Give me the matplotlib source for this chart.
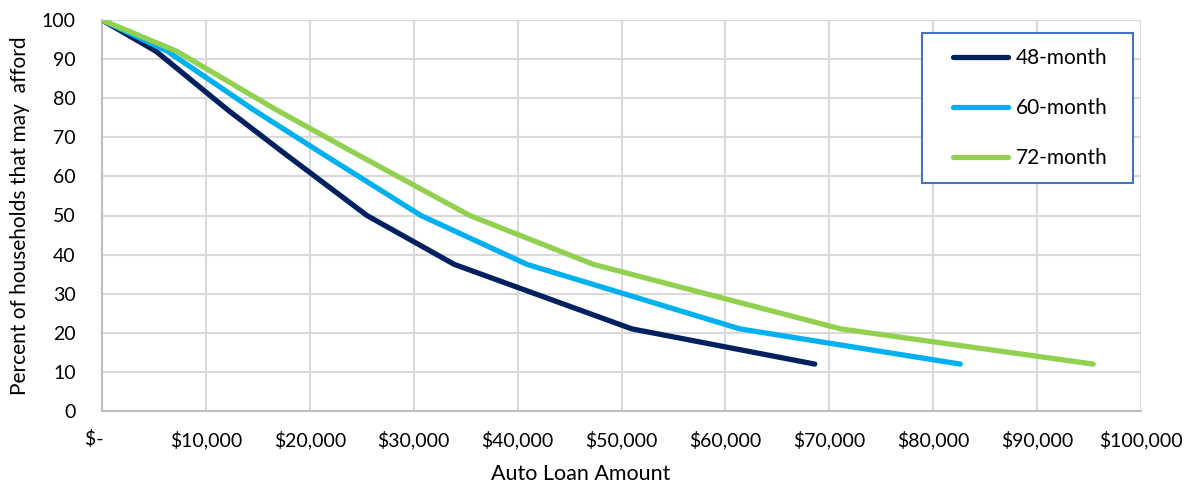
import matplotlib
matplotlib.use("Agg")
import matplotlib.pyplot as plt
from matplotlib.ticker import MultipleLocator, FuncFormatter
from matplotlib.patches import Rectangle

plt.rcParams['font.family'] = ['Lato', 'DejaVu Sans']

# Share of households (%) that can afford each loan amount
pct = [100, 92, 77, 66, 50, 37.5, 21, 12]
loan_48 = [0, 5200, 12100, 17500, 25500, 33900, 51000, 68600]
loan_60 = [0, 6300, 14600, 21100, 30700, 40900, 61400, 82600]
loan_72 = [0, 7200, 16800, 24300, 35400, 47300, 71100, 95400]

series = [
    ("48-month", loan_48, "#002060"),
    ("60-month", loan_60, "#00b0f0"),
    ("72-month", loan_72, "#92d050"),
]

W, H = 1201, 483
fig = plt.figure(figsize=(W / 100, H / 100), dpi=100)
ax = fig.add_axes([102 / W, 1 - 411 / H, 1039 / W, 391 / H])

for name, xs, col in series:
    ax.plot(xs, pct, color=col, lw=3.8, solid_capstyle='round',
            solid_joinstyle='round', label=name, zorder=3)

ax.set_xlim(0, 100000)
ax.set_ylim(0, 100)
ax.xaxis.set_major_locator(MultipleLocator(10000))
ax.yaxis.set_major_locator(MultipleLocator(10))


def money(v, _pos):
    if v == 0:
        return "$-   "
    return "${:,.0f}".format(v)


ax.xaxis.set_major_formatter(FuncFormatter(money))
ax.grid(True, color="#d9d9d9", lw=1.5, zorder=0)
ax.set_axisbelow(True)
for side in ("top", "right"):
    ax.spines[side].set_visible(False)
for side in ("left", "bottom"):
    ax.spines[side].set_color("#bfbfbf")
    ax.spines[side].set_linewidth(1.5)

ax.tick_params(axis='both', length=0, labelsize=14, colors="#000000")
ax.tick_params(axis='x', pad=14)
ax.tick_params(axis='y', pad=19)

ax.set_xlabel("Auto Loan Amount", fontsize=15.5)
ax.xaxis.set_label_coords(0.461, -0.135)
ax.set_ylabel("Percent of households that may  afford", fontsize=15)
ax.yaxis.set_label_coords(-0.069, 0.5)

# legend frame drawn separately so the padding can be set freely
fig.patches.append(Rectangle((922 / W, 1 - 183 / H), 211 / W, 150 / H,
                             transform=fig.transFigure, fill=True,
                             facecolor="white", edgecolor="#4472c4", lw=1.5,
                             zorder=5))
leg = fig.legend(loc="upper left", bbox_to_anchor=(953 / W, 1 - 48 / H),
                 fontsize=15, frameon=False, handlelength=2.64,
                 handletextpad=0.36, labelspacing=1.45, borderpad=0,
                 borderaxespad=0)
leg.set_zorder(6)
for h in leg.get_lines():
    h.set_linewidth(3.8)

fig.savefig("out.png", dpi=100)
